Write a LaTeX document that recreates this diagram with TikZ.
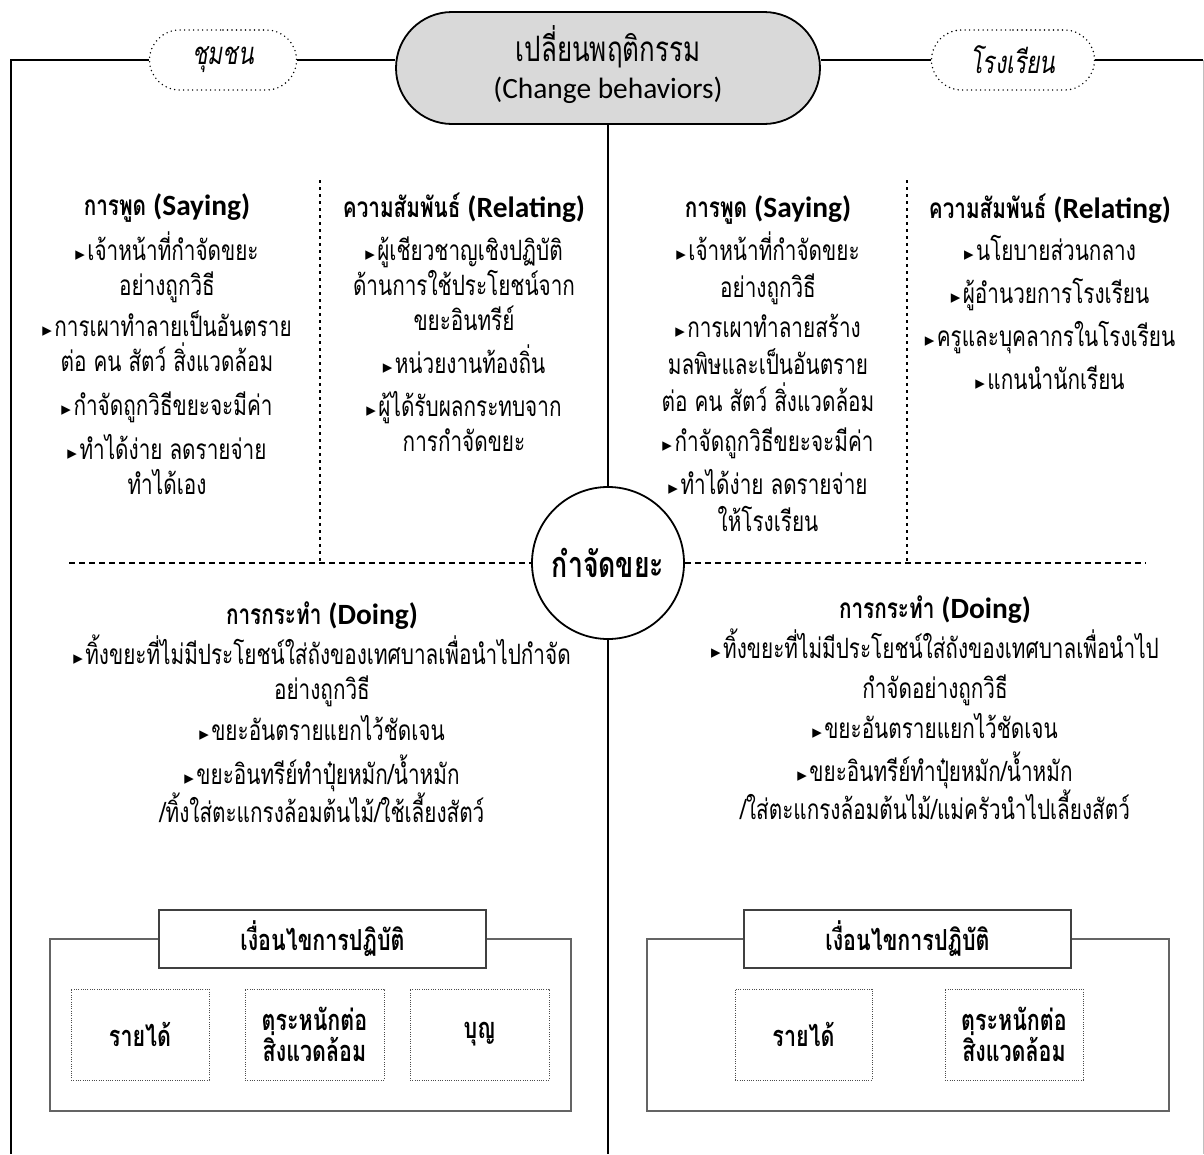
\documentclass[tikz,border=0pt]{standalone}
\usepackage{fontspec}
\setmainfont{Loma}[Script=Thai, FakeStretch=0.74]
\newfontfamily\latf{Carlito}[Scale=1.05]
\newfontfamily\symf{DejaVu Sans}
\newcommand{\lat}[1]{{\latf #1}}
\newcommand{\tri}{{\symf\fontsize{19}{19}\selectfont ▸}\hspace{2.5pt}}
\usetikzlibrary{shapes.misc}
\definecolor{pillgray}{RGB}{217,217,217}
\definecolor{boxgray}{RGB}{100,100,100}
\begin{document}
\begin{tikzpicture}[x=1pt,y=-1pt,
  frame/.style={line width=1.8pt, black},
  dashline/.style={line width=1.5pt, dash pattern=on 6pt off 4pt},
  dotline/.style={line width=1.7pt, dash pattern=on 3pt off 4pt},
  tag/.style={rounded rectangle, draw, line width=1.6pt, line cap=round, dash pattern=on 0pt off 4.5pt, minimum height=60pt, inner sep=0pt, font=\itshape\fontsize{31}{31}\selectfont},
  col/.style={align=center, anchor=base, inner sep=0pt, font=\fontsize{28}{35}\selectfont},
  outerbox/.style={draw=boxgray, line width=1.8pt, minimum height=172pt, inner sep=0pt},
  titlebox/.style={draw=black!75, line width=1.4pt, fill=white, minimum width=327pt, minimum height=58pt, inner sep=0pt, font=\bfseries\fontsize{29}{29}\selectfont},
  condbox/.style={draw=black!70, line width=0.9pt, dash pattern=on 1pt off 1.3pt, minimum height=91pt, inner sep=0pt, align=center, font=\bfseries\fontsize{29}{31}\selectfont}
]
\useasboundingbox (0,0) rectangle (1204,1154);

% top nodes
\node[rounded rectangle, draw, line width=1.8pt, fill=pillgray, minimum width=424pt, minimum height=112pt, inner sep=0pt] (pill) at (608,68) {};
\node[align=center, inner sep=0pt, font=\fontsize{35}{37}\selectfont] (pilltxt) at (608,65) {เปลี่ยนพฤติกรรม\\{\latf\fontsize{28}{37}\selectfont (Change behaviors)}};
\node[tag, minimum width=147pt] (chum) at (223,60) {ชุมชน};
\node[tag, minimum width=163pt] (school) at (1013,60) {โรงเรียน};

% center circle
\node[circle, draw, line width=1.8pt, minimum size=152pt, inner sep=0pt, font=\bfseries\fontsize{36}{36}\selectfont] (core) at (608,563) {กำจัดขยะ};

% frame coordinates
\coordinate (tl) at (11,60);
\coordinate (bl) at (11,1154);
\coordinate (tr) at (1203,60);
\coordinate (br) at (1203,1154);
\coordinate (cb) at (608,1154);
\coordinate (dl) at (69,563);
\coordinate (dr) at (1145,563);
\coordinate (v1t) at (320,180);
\coordinate (v1b) at (320,563);
\coordinate (v2t) at (907,180);
\coordinate (v2b) at (907,563);

% frame lines
\draw[frame] (chum.west) -- (tl) -- (bl);
\draw[frame] (chum.east) -- (chum.east -| pill.west);
\draw[frame] (school.west -| pill.east) -- (school.west);
\draw[frame] (school.east) -- (tr);
\draw[line width=0.8pt, black!25] (tr) -- (br);
\draw[frame] (pill.south) -- (core.north);
\draw[frame] (core.south) -- (cb);

% dashed / dotted separators
\draw[dashline] (dl) -- (core.west);
\draw[dashline] (core.east) -- (dr);
\draw[dotline] (v1t) -- (v1b);
\draw[dotline] (v2t) -- (v2b);

% community texts (anchor = baseline of last line)
\node[col] (saysL) at (167,494) {{\bfseries การพูด \lat{(Saying)}}\\[8pt]
\tri เจ้าหน้าที่กำจัดขยะ\\
อย่างถูกวิธี\\[6pt]
\tri การเผาทำลายเป็นอันตราย\\
ต่อ คน สัตว์ สิ่งแวดล้อม\\[9pt]
\tri กำจัดถูกวิธีขยะจะมีค่า\\[9pt]
\tri ทำได้ง่าย ลดรายจ่าย\\
ทำได้เอง};

\node[col] (relL) at (464,451) {{\bfseries ความสัมพันธ์ \lat{(Relating)}}\\[8pt]
\tri ผู้เชียวชาญเชิงปฏิบัติ\\
ด้านการใช้ประโยชน์จาก\\
ขยะอินทรีย์\\[8pt]
\tri หน่วยงานท้องถิ่น\\[8pt]
\tri ผู้ได้รับผลกระทบจาก\\
การกำจัดขยะ};

% school texts
\node[col] (saysR) at (768,531) {{\bfseries การพูด \lat{(Saying)}}\\[6pt]
\tri เจ้าหน้าที่กำจัดขยะ\\[2pt]
อย่างถูกวิธี\\[5pt]
\tri การเผาทำลายสร้าง\\[2pt]
มลพิษและเป็นอันตราย\\[2pt]
ต่อ คน สัตว์ สิ่งแวดล้อม\\[5pt]
\tri กำจัดถูกวิธีขยะจะมีค่า\\[8pt]
\tri ทำได้ง่าย ลดรายจ่าย\\[2pt]
ให้โรงเรียน};

\node[col] (relR) at (1050,389) {{\bfseries ความสัมพันธ์ \lat{(Relating)}}\\[7pt]
\tri นโยบายส่วนกลาง\\[8pt]
\tri ผู้อำนวยการโรงเรียน\\[8pt]
\tri ครูและบุคลากรในโรงเรียน\\[8pt]
\tri แกนนำนักเรียน};

% doing texts
\node[col] (doL) at (322,822) {{\bfseries การกระทำ \lat{(Doing)}}\\[5pt]
\tri ทิ้งขยะที่ไม่มีประโยชน์ใส่ถังของเทศบาลเพื่อนำไปกำจัด\\
อย่างถูกวิธี\\[6pt]
\tri ขยะอันตรายแยกไว้ชัดเจน\\[9pt]
\tri ขยะอินทรีย์ทำปุ๋ยหมัก/น้ำหมัก\\
/ทิ้งใส่ตะแกรงล้อมต้นไม้/ใช้เลี้ยงสัตว์};

\node[col] (doR) at (935,819) {{\bfseries การกระทำ \lat{(Doing)}}\\[5pt]
\tri ทิ้งขยะที่ไม่มีประโยชน์ใส่ถังของเทศบาลเพื่อนำไป\\[5pt]
กำจัดอย่างถูกวิธี\\[5pt]
\tri ขยะอันตรายแยกไว้ชัดเจน\\[8pt]
\tri ขยะอินทรีย์ทำปุ๋ยหมัก/น้ำหมัก\\
/ใส่ตะแกรงล้อมต้นไม้/แม่ครัวนำไปเลี้ยงสัตว์};

% conditions, community
\node[outerbox, minimum width=521pt] (condL) at (310.5,1025) {};
\node[titlebox] (condLt) at (322.5,939) {เงื่อนไขการปฏิบัติ};
\node[condbox, minimum width=138pt] (incL) at (140,1034.5) {รายได้};
\node[condbox, minimum width=139pt] (envL) at (314.5,1034.5) {ตระหนักต่อ\\สิ่งแวดล้อม};
\node[condbox, minimum width=139pt] (meritL) at (479.5,1034.5) {บุญ};

% conditions, school
\node[outerbox, minimum width=522pt] (condR) at (908,1025) {};
\node[titlebox] (condRt) at (907.5,939) {เงื่อนไขการปฏิบัติ};
\node[condbox, minimum width=137pt] (incR) at (803.5,1034.5) {รายได้};
\node[condbox, minimum width=138pt] (envR) at (1014,1034.5) {ตระหนักต่อ\\สิ่งแวดล้อม};
\end{tikzpicture}
\end{document}
